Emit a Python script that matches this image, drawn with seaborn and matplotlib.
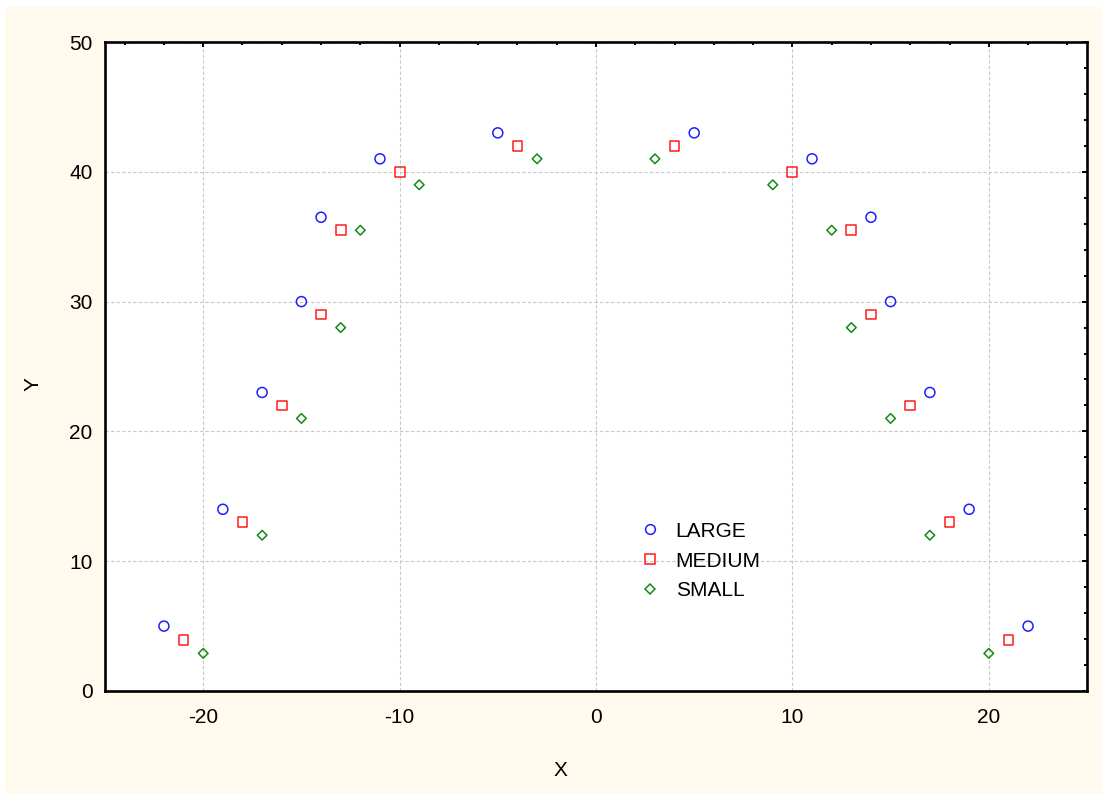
import pandas as pd
import numpy as np
from matplotlib import pyplot as plt
from matplotlib.lines import Line2D
from matplotlib.patches import Rectangle
from matplotlib import ticker as mtick
import seaborn as sns


# Point values
large_x = [-22, -19, -17, -15, -14, -11, -5, 5, 11, 14, 15, 17, 19, 22]
large_y = [5, 14, 23, 30, 36.5, 41, 43, 43, 41, 36.5, 30, 23, 14, 5]

medium_x = [-21, -18, -16, -14, -13, -10, -4, 4, 10, 13, 14, 16, 18, 21]
medium_y = [3.9, 13, 22, 29, 35.5, 40, 42, 42, 40, 35.5, 29, 22, 13, 3.9]

small_x = [-20, -17, -15, -13, -12, -9, -3, 3, 9, 12, 13, 15, 17, 20]
small_y = [2.9, 12, 21, 28, 35.5, 39, 41, 41, 39, 35.5, 28, 21, 12, 2.9]

groups = ['LARGE', 'MEDIUM', 'SMALL']


df = pd.concat([
    pd.DataFrame({'X': large_x, 'Y': large_y, 'Size': 'LARGE'}),
    pd.DataFrame({'X': medium_x, 'Y': medium_y, 'Size': 'MEDIUM'}),
    pd.DataFrame({'X': small_x, 'Y': small_y, 'Size': 'SMALL'}),
], ignore_index=True)

colors = {'LARGE': '#1f1fff', 'MEDIUM': '#ff1a1a', 'SMALL': '#138a13'}
markers = {'LARGE': 'o', 'MEDIUM': 's', 'SMALL': 'D'}
sizes = {'LARGE': 52, 'MEDIUM': 50, 'SMALL': 24}

sns.set_style('white')
plt.rcParams['font.family'] = ['Liberation Sans', 'DejaVu Sans']
plt.rcParams['axes.unicode_minus'] = False
plt.rcParams['text.color'] = 'black'
plt.rcParams['xtick.color'] = 'black'
plt.rcParams['ytick.color'] = 'black'
plt.rcParams['axes.labelcolor'] = 'black'

fig = plt.figure(figsize=(11.02, 7.94), dpi=100)
fig.patch.set_facecolor('white')
#cream background with a thin white strip on top and left
bg = Rectangle((5 / 1102, -0.01), 1, 1.01 - 7 / 794, transform=fig.transFigure,
               facecolor='#fff9ee', edgecolor='none', zorder=-10)
fig.add_artist(bg)

ax = fig.add_axes([105 / 1102, 1 - 691 / 794, 982 / 1102, 649 / 794])
ax.set_facecolor('white')
ax.set_zorder(1)

for g in groups:
    sub = df[df.Size == g]
    sns.scatterplot(data=sub, x='X', y='Y', marker=markers[g], s=sizes[g], ax=ax,
                    color=colors[g], legend=False, zorder=3)
    pts = ax.collections[-1]
    pts.set_facecolors('none')
    pts.set_edgecolors(colors[g])
    pts.set_linewidths(1.1)

ax.set_xlim(-25, 25)
ax.set_ylim(0, 50)
ax.xaxis.set_major_locator(mtick.MultipleLocator(10))
ax.xaxis.set_minor_locator(mtick.MultipleLocator(2))
ax.yaxis.set_major_locator(mtick.MultipleLocator(10))
ax.yaxis.set_minor_locator(mtick.MultipleLocator(2))

ax.grid(True, which='major', color='#c8c8c8', linestyle=(0, (3, 2)), linewidth=0.8)
ax.set_axisbelow(True)

for sp in ax.spines.values():
    sp.set_visible(True)
    sp.set_color('black')
    sp.set_linewidth(1.9)

ax.tick_params(which='both', direction='in', top=True, right=True, color='black',
               labelsize=15)
ax.tick_params(axis='x', which='both', pad=12)
ax.tick_params(axis='y', which='both', pad=9)
ax.tick_params(which='major', length=3.5, width=1.4)
ax.tick_params(which='minor', length=2.5, width=1.4)

ax.set_xlabel('X', fontsize=15)
ax.set_ylabel('Y', fontsize=15)
ax.xaxis.set_label_coords((560 - 105) / 982, (691 - 770) / 649)
ax.xaxis.label.set_va('center')
ax.yaxis.set_label_coords((33 - 105) / 982, (691 - 384) / 649)
ax.yaxis.label.set_va('center')

handles = [Line2D([], [], linestyle='', marker=markers[g], markerfacecolor='none',
                  markeredgecolor=colors[g], markersize=7 if g != 'SMALL' else 5,
                  markeredgewidth=1.1) for g in groups]
ax.legend(handles, groups, frameon=False, fontsize=15, loc='center left',
          bbox_to_anchor=((633 - 105) / 982, (691 - 561) / 649), borderaxespad=0,
          handlelength=0.8, handletextpad=0.85, labelspacing=0.52)

plt.savefig('out.png', dpi=100)
